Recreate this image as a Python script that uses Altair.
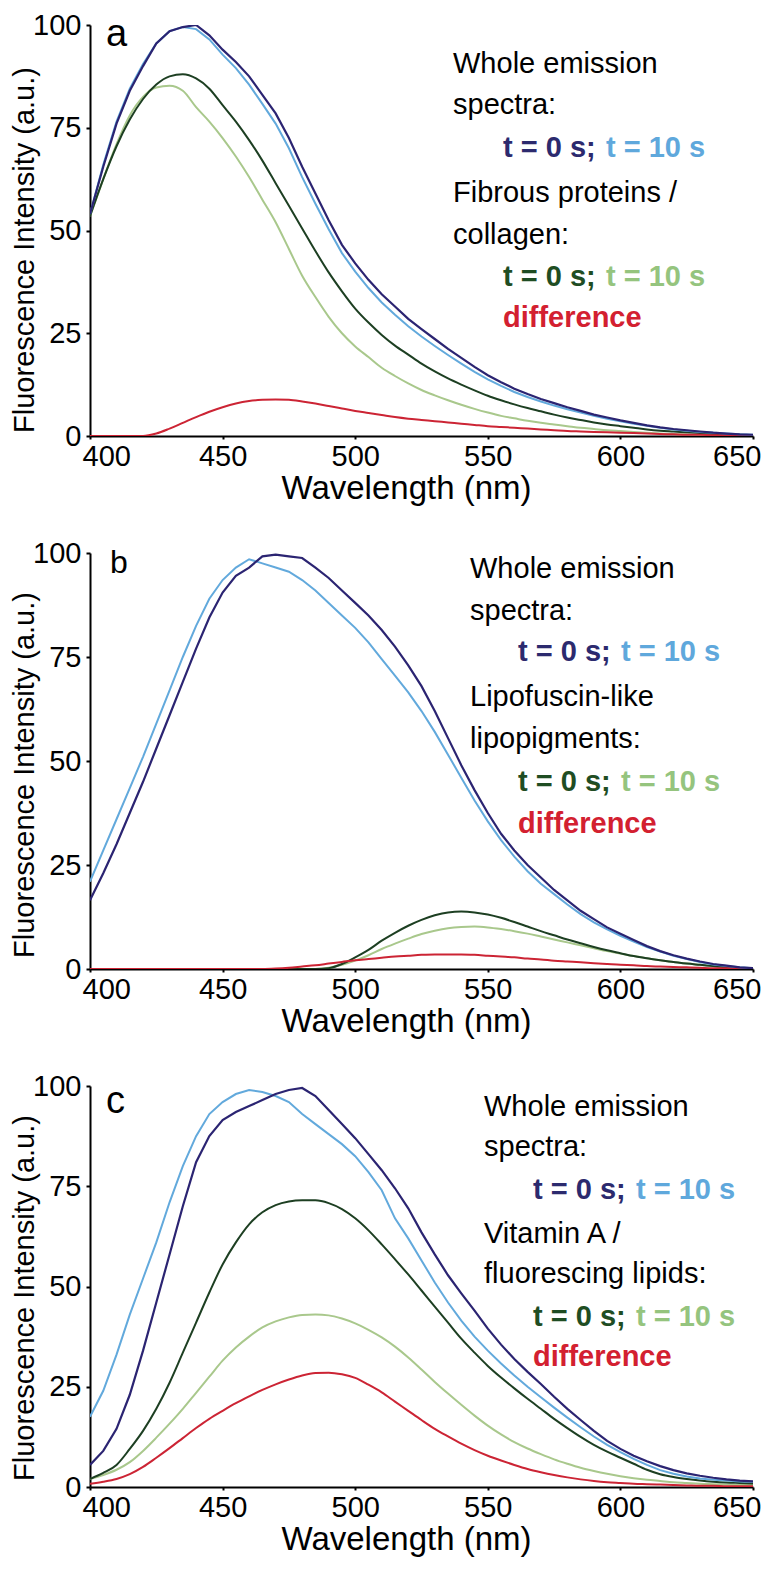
import altair as alt
import pandas as pd

FONT = "Liberation Sans"

wavelength = list(range(400, 651, 5))
x_ticks = [400, 450, 500, 550, 600, 650]
y_ticks = [0, 25, 50, 75, 100]

# ---------------- panel a ----------------
a_whole_t0 = [54, 65.5, 76, 84, 90, 95.5, 98.5, 99.5, 100, 97.5,
              94, 91, 87.5, 83, 78.5, 72.5, 65.5, 59, 52.5, 46.5,
              42, 38, 34.5, 31.5, 28.5, 26, 23.6, 21.2, 19, 16.8,
              14.8, 13.1, 11.5, 10.2, 9, 8, 7, 6.1, 5.2, 4.5,
              3.8, 3.2, 2.6, 2.1, 1.7, 1.4, 1.1, 0.8, 0.6, 0.4, 0.3]
a_whole_t10 = [54, 66, 76.5, 84.5, 90.5, 95.5, 98.5, 99.5, 99, 96.5,
               92.8, 89.5, 85.5, 80.8, 76, 70, 63, 56.5, 50.3, 44.5,
               40, 36, 32.5, 29.5, 26.7, 24.2, 21.9, 19.7, 17.6, 15.6,
               13.8, 12.2, 10.7, 9.5, 8.4, 7.4, 6.5, 5.7, 4.9, 4.2,
               3.6, 3, 2.5, 2, 1.6, 1.3, 1, 0.8, 0.6, 0.4, 0.3]
a_comp_t0 = [53.5, 62.5, 70.5, 77, 82, 85.5, 87.5, 88, 87, 84.5,
             80.5, 76.5, 72, 67, 61.5, 56, 50.5, 45, 39.8, 35.2,
             31, 27.6, 24.6, 22, 19.8, 17.6, 15.7, 14, 12.5, 11.1,
             9.8, 8.7, 7.7, 6.8, 6, 5.2, 4.5, 3.9, 3.3, 2.8,
             2.4, 2, 1.6, 1.3, 1.1, 0.9, 0.7, 0.5, 0.4, 0.3, 0.2]
a_comp_t10 = [53.5, 62.5, 71, 78, 82.5, 84.8, 85.2, 84, 80, 76.5,
              72.5, 68, 63, 57.5, 52, 45.5, 39, 33.8, 29, 25,
              21.8, 19.2, 16.6, 14.6, 12.8, 11.2, 9.9, 8.7, 7.6, 6.6,
              5.7, 4.9, 4.3, 3.7, 3.2, 2.8, 2.4, 2, 1.7, 1.4,
              1.2, 1, 0.8, 0.6, 0.5, 0.4, 0.3, 0.2, 0.2, 0.1, 0.1]
a_diff = [0, 0, 0, 0, 0, 0.6, 1.8, 3.2, 4.6, 5.9,
          7, 7.9, 8.5, 8.8, 8.9, 8.8, 8.4, 7.9, 7.3, 6.7,
          6.1, 5.6, 5.1, 4.6, 4.2, 3.9, 3.6, 3.3, 3, 2.7,
          2.4, 2.2, 2, 1.8, 1.6, 1.4, 1.2, 1.1, 1, 0.9,
          0.8, 0.7, 0.6, 0.5, 0.4, 0.3, 0.3, 0.2, 0.2, 0.1, 0.1]

# ---------------- panel b ----------------
b_whole_t0 = [16.5, 23, 30, 37.5, 45, 53, 61, 69, 77, 84.5,
              90.5, 94.5, 96.5, 99.2, 99.6, 99.2, 98.8, 96.5, 94, 91,
              88, 85, 81.5, 77.5, 73, 68, 62, 55.5, 49, 43,
              37.5, 32.5, 28.5, 25, 22, 19, 16.5, 14, 12, 10,
              8.5, 7, 5.5, 4.3, 3.3, 2.5, 1.8, 1.2, 0.8, 0.4, 0.2]
b_whole_t10 = [21, 28.5, 36, 43.5, 51, 59, 67, 75, 82.5, 89,
               93.5, 96.5, 98.5, 97.5, 96.5, 95.5, 93.5, 91, 88, 85,
               82, 78.5, 74.5, 70.5, 66.5, 62, 57, 51.5, 46, 40.5,
               35.5, 31, 27, 23.5, 20.5, 18, 15.5, 13.2, 11.2, 9.5,
               8, 6.6, 5.3, 4.2, 3.2, 2.4, 1.7, 1.1, 0.7, 0.4, 0.2]
b_comp_t0 = [0, 0, 0, 0, 0, 0, 0, 0, 0, 0,
             0, 0, 0, 0, 0, 0, 0, 0, 0.2, 1.2,
             2.8, 4.6, 6.8, 8.7, 10.4, 11.8, 12.9, 13.6, 13.8, 13.6,
             13.1, 12.3, 11.3, 10.2, 9.1, 8.1, 7.1, 6.2, 5.3, 4.5,
             3.8, 3.1, 2.6, 2.1, 1.7, 1.3, 1, 0.7, 0.4, 0.2, 0.1]
b_comp_t10 = [0, 0, 0, 0, 0, 0, 0, 0, 0, 0,
              0, 0, 0, 0, 0, 0, 0, 0, 0.3, 1,
              2, 3.3, 4.8, 6.1, 7.3, 8.4, 9.2, 9.8, 10.1, 10.2,
              10, 9.6, 9.1, 8.5, 7.8, 7.1, 6.4, 5.7, 5, 4.3,
              3.7, 3.1, 2.6, 2.1, 1.7, 1.3, 1, 0.7, 0.4, 0.2, 0.1]
b_diff = [0, 0, 0, 0, 0, 0, 0, 0, 0, 0,
          0, 0, 0, 0, 0.1, 0.3, 0.6, 0.9, 1.3, 1.7,
          2.1, 2.4, 2.7, 3, 3.2, 3.4, 3.5, 3.5, 3.5, 3.4,
          3.2, 3, 2.8, 2.5, 2.3, 2, 1.8, 1.6, 1.4, 1.2,
          1, 0.9, 0.7, 0.6, 0.5, 0.4, 0.3, 0.2, 0.2, 0.1, 0.1]

# ---------------- panel c ----------------
c_whole_t0 = [5.5, 9, 14.5, 23, 34, 46, 58, 70, 81, 87.5,
              91.5, 93.5, 95, 96.5, 98, 99, 99.5, 97.5, 94, 90.5,
              87, 83, 79, 74.5, 69.5, 63.5, 58, 52.8, 48.3, 44,
              39.5, 35.5, 31.9, 28.7, 25.7, 22.5, 19.5, 16.7, 14, 11.5,
              9.5, 7.8, 6.4, 5.2, 4.2, 3.4, 2.8, 2.3, 1.9, 1.6, 1.4]
c_whole_t10 = [17.5, 24, 33, 43, 52, 61, 71, 80, 87.5, 93,
               96, 98, 99, 98.5, 97.5, 96, 93, 90.5, 88, 85.5,
               82.5, 78.5, 74, 67, 62, 56.5, 51, 46, 41.5, 37.5,
               34, 30.8, 27.8, 25, 22.4, 19.8, 17.3, 14.9, 12.6, 10.5,
               8.7, 7, 5.5, 4.2, 3.3, 2.6, 2.1, 1.8, 1.6, 1.4, 1.3]
c_comp_t0 = [2, 3.5, 5.5, 9.5, 14, 19.5, 26, 33.5, 41, 48.5,
             55.5, 61, 65.5, 68.5, 70.3, 71.2, 71.5, 71.5, 70.8, 69.3,
             67, 64, 60.5, 56.8, 53, 49, 45, 41, 37, 33.5,
             30.2, 27.3, 24.6, 22, 19.5, 17, 14.7, 12.5, 10.5, 8.8,
             7.3, 5.8, 4.3, 3.2, 2.5, 2, 1.6, 1.3, 1.1, 1, 0.9]
c_comp_t10 = [2, 3, 4.3, 6.2, 9, 12.3, 15.8, 19.5, 23.5, 27.5,
              31.5, 34.8, 37.5, 39.8, 41.3, 42.3, 42.9, 43, 42.8, 42,
              40.8, 39.2, 37.3, 35, 32.3, 29.3, 26.2, 23.3, 20.5, 17.8,
              15.3, 13.1, 11.2, 9.6, 8.2, 6.9, 5.8, 4.8, 4, 3.3,
              2.7, 2.2, 1.8, 1.5, 1.2, 1, 0.8, 0.7, 0.6, 0.5, 0.5]
c_diff = [0.8, 1.3, 2, 3.2, 5, 7.3, 9.7, 12.2, 14.7, 17,
          19, 20.9, 22.6, 24.2, 25.6, 26.8, 27.8, 28.4, 28.5, 28.1,
          27.2, 25.5, 23.6, 21.3, 19, 16.7, 14.5, 12.6, 10.8, 9.2,
          7.8, 6.6, 5.5, 4.5, 3.7, 3, 2.4, 1.9, 1.5, 1.2,
          1, 0.8, 0.7, 0.6, 0.5, 0.4, 0.3, 0.3, 0.2, 0.2, 0.2]

# ---------------- text ----------------
panel_letters = ["a", "b", "c"]
component_names = [["Fibrous proteins /", "collagen:"],
                   ["Lipofuscin-like", "lipopigments:"],
                   ["Vitamin A /", "fluorescing lipids:"]]
whole_names = ["Whole emission", "spectra:"]
t0_text = "t = 0 s;"
t10_text = "t = 10 s"
diff_text = "difference"
x_title = "Wavelength (nm)"
y_title = "Fluorescence Intensity (a.u.)"

# ---------------- styles ----------------
C_DBLUE = "#2b2472"
C_LBLUE = "#62a9dc"
C_DGREEN = "#1d3f22"
C_LGREEN = "#a9c88c"
C_RED = "#cc2434"
T_DBLUE = "#2c2a6e"
T_LBLUE = "#5fa8dc"
T_DGREEN = "#1f4d23"
T_LGREEN = "#95c47e"
T_RED = "#d32030"

W = 663
heights = [411, 416, 401]
y_title_center = [225, 222, 212]
# legend layout per panel: (x_text, x_indent, [7 baselines], letter dx, letter baseline, letter size)
layouts = [
    (363, 413, [48, 89, 132, 177, 219, 261, 302], 16, 21, 38),
    (380, 428, [25, 67, 108, 153, 195, 238, 280], 20, 20, 32),
    (394, 443, [30, 70, 113, 157, 197, 240, 280], 16, 27, 38),
]


def x_enc():
    return alt.X("wl:Q", scale=alt.Scale(domain=[400, 650], nice=False, zero=False),
                 axis=alt.Axis(values=x_ticks, title=x_title, grid=False,
                               labelFont=FONT, titleFont=FONT, labelFontSize=29,
                               titleFontSize=33, titleFontWeight="normal",
                               labelColor="black", titleColor="black",
                               domainColor="black", domainWidth=2, tickColor="black",
                               tickWidth=2, tickSize=3, labelPadding=3,
                               labelFlush=True, labelFlushOffset=8,
                               labelOverlap=False,
                               titleX=316, titleY=62, titleBaseline="alphabetic"))


def y_enc():
    return alt.Y("v:Q", scale=alt.Scale(domain=[0, 100], nice=False),
                 axis=alt.Axis(values=y_ticks, title=None,
                               grid=False, labelFont=FONT, labelFontSize=29,
                               labelColor="black", domainColor="black", domainWidth=2,
                               tickColor="black", tickWidth=2, tickSize=4,
                               labelPadding=5, labelFlush=False, labelOverlap=False))


def txt(s, x, y, color="black", weight="normal", size=29, dx=0):
    return alt.Chart(pd.DataFrame({"t": [s]})).mark_text(
        align="left", baseline="alphabetic", font=FONT, fontSize=size,
        fontWeight=weight, color=color, dx=dx
    ).encode(x=alt.value(x), y=alt.value(y), text="t:N")


def vtitle(s, x, y):
    return alt.Chart(pd.DataFrame({"t": [s]})).mark_text(
        align="center", baseline="alphabetic", font=FONT, fontSize=29,
        color="black", angle=270
    ).encode(x=alt.value(x), y=alt.value(y), text="t:N")


def panel(i, whole_t0, whole_t10, comp_t0, comp_t10, diff):
    h = heights[i]
    series = [
        (comp_t10, C_LGREEN, 2, "monotone"),
        (comp_t0, C_DGREEN, 2, "monotone"),
        (diff, C_RED, 2, "monotone"),
        (whole_t10, C_LBLUE, 2, "linear"),
        (whole_t0, C_DBLUE, 2.2, "linear"),
    ]
    layers = []
    for vals, col, sw, interp in series:
        df = pd.DataFrame({"wl": wavelength, "v": vals})
        layers.append(alt.Chart(df).mark_line(color=col, strokeWidth=sw,
                                              interpolate=interp, clip=True)
                      .encode(x=x_enc(), y=y_enc()))
    xt, xi, bl, ldx, lby, lsz = layouts[i]
    layers += [
        vtitle(y_title, -56, y_title_center[i]),
        txt(panel_letters[i], ldx, lby, size=lsz),
        txt(whole_names[0], xt, bl[0]),
        txt(whole_names[1], xt, bl[1]),
        txt(t0_text, xi, bl[2], T_DBLUE, "bold"),
        txt(t10_text, xi, bl[2], T_LBLUE, "bold", dx=103),
        txt(component_names[i][0], xt, bl[3]),
        txt(component_names[i][1], xt, bl[4]),
        txt(t0_text, xi, bl[5], T_DGREEN, "bold"),
        txt(t10_text, xi, bl[5], T_LGREEN, "bold", dx=103),
        txt(diff_text, xi, bl[6], T_RED, "bold"),
    ]
    return alt.layer(*layers).properties(width=W, height=h)


pa = panel(0, a_whole_t0, a_whole_t10, a_comp_t0, a_comp_t10, a_diff)
pb = panel(1, b_whole_t0, b_whole_t10, b_comp_t0, b_comp_t10, b_diff)
pc = panel(2, c_whole_t0, c_whole_t10, c_comp_t0, c_comp_t10, c_diff)

chart = alt.vconcat(pa, pb, pc, spacing=117, bounds="flush").configure_view(
    stroke=None
).properties(
    padding={"left": 2, "top": 3, "right": 0, "bottom": 5},
    background="white",
)

chart.save("out.html", embed_options={"renderer": "svg", "actions": False})
